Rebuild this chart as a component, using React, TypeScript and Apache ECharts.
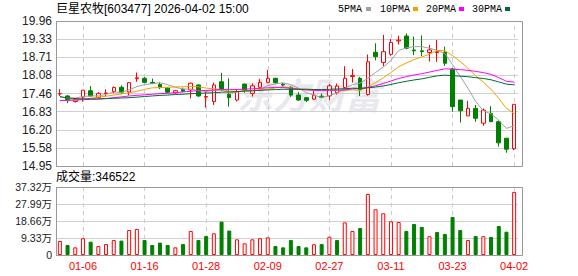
import React, { useEffect, useRef } from 'react';
import * as echarts from 'echarts';

// ---------- data ----------
const dates = ['12-30','12-31','01-05','01-06','01-07','01-08','01-09','01-12','01-13','01-14',
  '01-15','01-16','01-19','01-20','01-21','01-22','01-23','01-26','01-27','01-28',
  '01-29','01-30','02-02','02-03','02-04','02-05','02-06','02-09','02-10','02-11',
  '02-12','02-13','02-24','02-25','02-26','02-27','03-02','03-03','03-04','03-05',
  '03-06','03-09','03-10','03-11','03-12','03-13','03-16','03-17','03-18','03-19',
  '03-20','03-23','03-24','03-25','03-26','03-27','03-30','03-31','04-01','04-02'];

const tickLabels = ['01-06','01-16','01-28','02-09','02-27','03-11','03-23','04-02'];

const opens = [17.44,17.37,17.18,17.33,17.55,17.32,17.46,17.52,17.67,17.51,
  17.97,17.98,17.84,17.77,17.64,17.48,17.60,17.58,17.75,17.33,
  17.18,17.86,17.43,17.23,17.78,17.46,17.67,17.84,17.98,17.78,
  17.67,17.40,17.31,17.26,17.36,17.37,17.48,17.66,18.04,17.98,
  17.42,18.88,18.53,18.81,19.27,19.44,18.96,18.93,18.87,18.87,
  18.88,18.30,17.23,16.68,16.94,16.43,16.77,16.48,15.91,15.55];
const closes = [17.45,17.21,17.25,17.57,17.37,17.46,17.47,17.66,17.50,17.83,
  18.00,17.84,17.80,17.66,17.50,17.55,17.53,17.81,17.37,17.35,
  17.75,17.60,17.31,17.52,17.57,17.72,17.84,17.98,17.83,17.75,
  17.40,17.23,17.22,17.40,17.32,17.72,17.71,17.98,18.08,17.58,
  18.55,18.73,18.90,19.22,19.30,19.02,18.93,18.90,18.96,18.90,
  18.50,17.00,16.86,16.94,16.60,16.88,16.48,15.75,15.53,17.08];
const lows = [17.37,17.12,17.14,17.17,17.35,17.29,17.35,17.46,17.44,17.39,
  17.86,17.81,17.78,17.61,17.47,17.45,17.50,17.29,17.34,16.97,
  17.06,17.54,17.00,17.18,17.48,17.35,17.55,17.81,17.80,17.70,
  17.34,17.20,17.16,17.23,17.29,17.23,17.42,17.60,17.83,17.37,
  17.38,18.60,18.40,18.76,19.15,18.98,18.78,18.75,18.56,18.55,
  18.41,16.83,16.45,16.68,16.48,16.34,16.48,15.62,15.41,15.50];
const highs = [17.60,17.40,17.29,17.57,17.71,17.50,17.60,17.70,17.74,17.84,
  18.18,18.02,17.97,17.84,17.67,17.58,17.66,17.83,17.76,17.58,
  17.83,18.17,17.98,17.60,17.80,17.80,17.95,18.27,18.00,17.83,
  17.71,17.50,17.33,17.55,17.45,17.78,17.80,18.40,18.30,18.03,
  18.80,19.19,19.48,19.34,19.45,19.53,19.42,19.46,19.13,19.30,
  19.07,18.33,17.23,17.20,17.06,16.94,17.02,16.52,15.91,17.08];

// volume (lots)
const volumes = [77000,55000,42000,92000,73000,49000,60000,82000,79000,137000,
  143000,82000,55000,68000,55000,42000,60000,132000,82000,104000,
  119000,183000,134000,86000,64000,86000,92000,97000,49000,42000,
  82000,49000,42000,59000,60000,100000,82000,179000,132000,148000,
  335000,251000,229000,185000,181000,132000,170000,154000,103000,126000,
  115000,209000,137000,82000,104000,103000,99000,159000,128000,346522];

const ma5Head = [17.33, 17.30, 17.30, 17.35];
const ma10Head = [17.21, 17.22, 17.23, 17.25, 17.29, 17.33, 17.36, 17.40, 17.44];
const ma20Head = [17.21, 17.22, 17.23, 17.24, 17.25, 17.26, 17.28, 17.31, 17.34, 17.37,
  17.39, 17.41, 17.43, 17.45, 17.46, 17.48, 17.51, 17.53, 17.56];
const ma30Head = [17.35, 17.30, 17.28, 17.27, 17.27, 17.27, 17.28, 17.29, 17.30, 17.31,
  17.33, 17.35, 17.37, 17.39, 17.40, 17.42, 17.43, 17.45, 17.46, 17.47,
  17.48, 17.50, 17.51, 17.52, 17.54, 17.55, 17.56, 17.58, 17.59];

const maNames = ['5PMA', '10PMA', '20PMA', '30PMA'];
const maColors = ['#a0a0a0', '#f5a000', '#ff00ff', '#006b35'];

const priceMin = 14.95;
const priceMax = 19.96;
const volMax = 373200;
const volInterval = 93300;

const title = '巨星农牧[603477] 2026-04-02 15:00';

// ---------- helpers ----------
const span = +(priceMax - priceMin).toFixed(4);
const priceInterval = span / 8;
const off = (v: number) => +(v - priceMin).toFixed(4);

function movingAvg(n: number, head: number[]) {
  return closes.map((c, i) => {
    if (i < n - 1) return head[i];
    let s = 0;
    for (let k = i - n + 1; k <= i; k++) s += closes[k];
    return s / n;
  });
}
const maLines = [movingAvg(5, ma5Head), movingAvg(10, ma10Head), movingAvg(20, ma20Head), movingAvg(30, ma30Head)];

const candleData = dates.map((_, i) => [off(opens[i]), off(closes[i]), off(lows[i]), off(highs[i])]);
const volData = volumes.map((v, i) => {
  const up = i === 0 ? closes[i] >= opens[i] : closes[i] >= closes[i - 1];
  return {
    value: v,
    itemStyle: up
      ? { color: '#ffffff', borderColor: '#ff0000', borderWidth: 1 }
      : { color: '#008000', borderColor: '#008000', borderWidth: 1 },
  };
});

const FONT = 'Arial, "Liberation Sans", "Noto Sans CJK SC", sans-serif';
const vLines = tickLabels.map((t) => ({ xAxis: t }));
const vLineStyle = { color: '#cccccc', type: [4, 4] as any, width: 1 };

function buildOption() {
  const legendX = [338, 380, 426, 472];
  const legendSqX = [366, 413, 459, 505];
  const graphic: any[] = [
    {
      type: 'text', x: 237, y: 93, z: 0,
      style: { text: '东方财富', font: 'italic bold 36px "Noto Sans CJK SC", sans-serif', fill: '#e8e8ee', verticalAlign: 'middle' },
    },
    {
      type: 'text', x: 56, y: 9, z: 50,
      style: { text: title, font: '12px ' + FONT, fill: '#000', verticalAlign: 'middle' },
    },
    {
      type: 'text', x: 56, y: 177, z: 50,
      style: { text: '成交量:' + volumes[volumes.length - 1], font: '12px ' + FONT, fill: '#000', verticalAlign: 'middle' },
    },
    {
      type: 'rect', z: 100, shape: { x: 56.5, y: 21.5, width: 466, height: 145 },
      style: { fill: 'none', stroke: '#999', lineWidth: 1 },
    },
    {
      type: 'rect', z: 100, shape: { x: 56.5, y: 187.5, width: 466, height: 68 },
      style: { fill: 'none', stroke: '#999', lineWidth: 1 },
    },
  ];
  maNames.forEach((n, k) => {
    graphic.push({
      type: 'text', x: legendX[k], y: 9, z: 50,
      style: { text: n, font: '10px "Liberation Mono", monospace', fill: '#000', verticalAlign: 'middle' },
    });
    graphic.push({
      type: 'rect', z: 50, shape: { x: legendSqX[k], y: 7, width: 5, height: 4 },
      style: { fill: maColors[k] },
    });
  });

  const xBase = {
    type: 'category', data: dates, boundaryGap: true,
    axisLine: { show: false }, axisTick: { show: false }, splitLine: { show: false },
  };

  return {
    animation: false,
    backgroundColor: '#ffffff',
    grid: [
      { left: 56, top: 21, width: 462, height: 145 },
      { left: 56, top: 187, width: 462, height: 68 },
    ],
    xAxis: [
      { ...xBase, gridIndex: 0, axisLabel: { show: false } },
      {
        ...xBase, gridIndex: 1,
        axisLabel: {
          show: true, color: '#ff0000', fontSize: 11, fontFamily: FONT, margin: 5,
          interval: (_i: number, v: string) => tickLabels.includes(v),
        },
      },
    ],
    yAxis: [
      {
        type: 'value', gridIndex: 0, min: 0, max: span, interval: priceInterval,
        axisLine: { show: false }, axisTick: { show: false },
        splitLine: { show: true, lineStyle: { color: '#d0d0d0', width: 1 } },
        axisLabel: {
          margin: 4, fontSize: 12, color: '#222', fontFamily: FONT,
          formatter: (v: number) => (Math.round((v + priceMin) * 100 + 1e-6) / 100).toFixed(2),
        },
      },
      {
        type: 'value', gridIndex: 1, min: 0, max: volMax, interval: volInterval,
        axisLine: { show: false }, axisTick: { show: false },
        splitLine: { show: true, lineStyle: { color: '#d0d0d0', width: 1 } },
        axisLabel: {
          margin: 4, fontSize: 10.5, color: '#222', fontFamily: FONT,
          formatter: (v: number) => (v === 0 ? '0' : (v / 10000).toFixed(2) + '万'),
        },
      },
    ],
    series: [
      {
        type: 'candlestick', xAxisIndex: 0, yAxisIndex: 0, data: candleData, barWidth: 4, z: 3,
        itemStyle: { color: '#ffffff', color0: '#008000', borderColor: '#ff0000', borderColor0: '#008000', borderWidth: 1 },
        markLine: { silent: true, symbol: 'none', label: { show: false }, lineStyle: vLineStyle, data: vLines, z: 1 },
      },
      ...maLines.map((arr, k) => ({
        type: 'line', name: maNames[k], xAxisIndex: 0, yAxisIndex: 0, z: 5,
        data: arr.map((v) => off(v)), showSymbol: false, symbol: 'none',
        lineStyle: { color: maColors[k], width: 1 }, itemStyle: { color: maColors[k] },
      })),
      {
        type: 'bar', xAxisIndex: 1, yAxisIndex: 1, data: volData, barWidth: 4, z: 3,
        markLine: { silent: true, symbol: 'none', label: { show: false }, lineStyle: vLineStyle, data: vLines, z: 1 },
      },
    ],
    graphic,
  };
}

export default function App() {
  const ref = useRef<HTMLDivElement>(null);
  useEffect(() => {
    if (!ref.current) return;
    const chart = echarts.init(ref.current, null, { renderer: 'svg', width: 578, height: 276 });
    chart.setOption(buildOption() as any);
    return () => chart.dispose();
  }, []);
  return (
    <div
      ref={ref}
      style={{ position: 'fixed', left: 0, top: 0, width: 578, height: 276, background: '#fff' }}
    />
  );
}
